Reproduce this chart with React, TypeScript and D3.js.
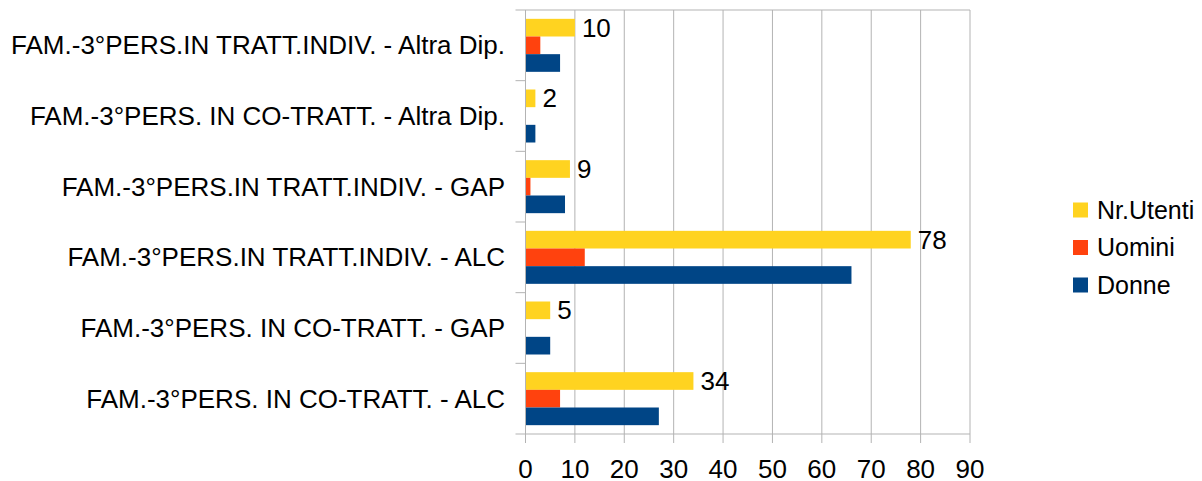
import React from 'react';
import * as d3 from 'd3';

// categories listed top to bottom as shown
const categories = [
  'FAM.-3°PERS.IN TRATT.INDIV. - Altra Dip.',
  'FAM.-3°PERS. IN CO-TRATT. - Altra Dip.',
  'FAM.-3°PERS.IN TRATT.INDIV. - GAP',
  'FAM.-3°PERS.IN TRATT.INDIV. - ALC',
  'FAM.-3°PERS. IN CO-TRATT. - GAP',
  'FAM.-3°PERS. IN CO-TRATT. - ALC',
];
const nrUtenti = [10, 2, 9, 78, 5, 34];
const uomini = [3, 0, 1, 12, 0, 7];
const donne = [7, 2, 8, 66, 5, 27];
const seriesNames = ['Nr.Utenti', 'Uomini', 'Donne'];
const colors = ['#ffd320', '#ff420e', '#004586'];
const xTicks = [0, 10, 20, 30, 40, 50, 60, 70, 80, 90];

export default function App() {
  const width = 1202;
  const height = 481;
  const left = 525.5, right = 970, top = 10, bottom = 434;
  const font = 'Liberation Sans, Arial, sans-serif';

  const x = d3.scaleLinear().domain([0, 90]).range([left, right]);
  const y = d3.scaleBand().domain(categories).range([top, bottom]).paddingInner(0).paddingOuter(0);
  const bw = y.bandwidth();
  const barH = bw / 4;
  const allSeries = [nrUtenti, uomini, donne];

  return (
    <svg width={width} height={height} style={{ position: 'absolute', left: 0, top: 0 }}>
      <rect width={width} height={height} fill="#fff" />
      {/* grid */}
      {xTicks.map(t => (
        <line key={t} x1={x(t)} x2={x(t)} y1={top} y2={bottom + (t === 0 ? 0 : 9)} stroke="#b3b3b3" strokeWidth={1} />
      ))}
      <line x1={left} x2={left} y1={bottom} y2={bottom + 9} stroke="#b3b3b3" />
      <line x1={left - 10} x2={right} y1={top} y2={top} stroke="#b3b3b3" />
      <line x1={left - 10} x2={right} y1={bottom} y2={bottom} stroke="#b3b3b3" />
      {categories.slice(1).map(c => (
        <line key={c} x1={left - 10} x2={left} y1={y(c)!} y2={y(c)!} stroke="#b3b3b3" />
      ))}
      {/* bars */}
      {categories.map((c, i) => (
        <g key={c}>
          {allSeries.map((s, j) => (
            <rect key={j} x={x(0)} y={y(c)! + barH / 2 + j * barH} width={x(s[i]) - x(0)} height={barH} fill={colors[j]} />
          ))}
          <text x={x(nrUtenti[i]) + 7} y={y(c)! + barH} dy="0.35em" fontFamily={font} fontSize={26} fill="#000">
            {nrUtenti[i]}
          </text>
          <text x={505} y={y(c)! + bw / 2} dy="0.35em" textAnchor="end" fontFamily={font} fontSize={26} fill="#000">
            {c}
          </text>
        </g>
      ))}
      <line x1={left} x2={left} y1={top} y2={bottom} stroke="#b3b3b3" />
      {/* x tick labels */}
      {xTicks.map(t => (
        <text key={t} x={x(t)} y={468.5} dy="0.35em" textAnchor="middle" fontFamily={font} fontSize={26} fill="#000">
          {t}
        </text>
      ))}
      {/* legend */}
      {seriesNames.map((n, j) => (
        <g key={n} transform={`translate(1073, ${210 + j * 37.5})`}>
          <rect x={0} y={-7.5} width={15} height={15} fill={colors[j]} />
          <text x={24} y={0} dy="0.35em" fontFamily={font} fontSize={25} fill="#000">{n}</text>
        </g>
      ))}
    </svg>
  );
}
